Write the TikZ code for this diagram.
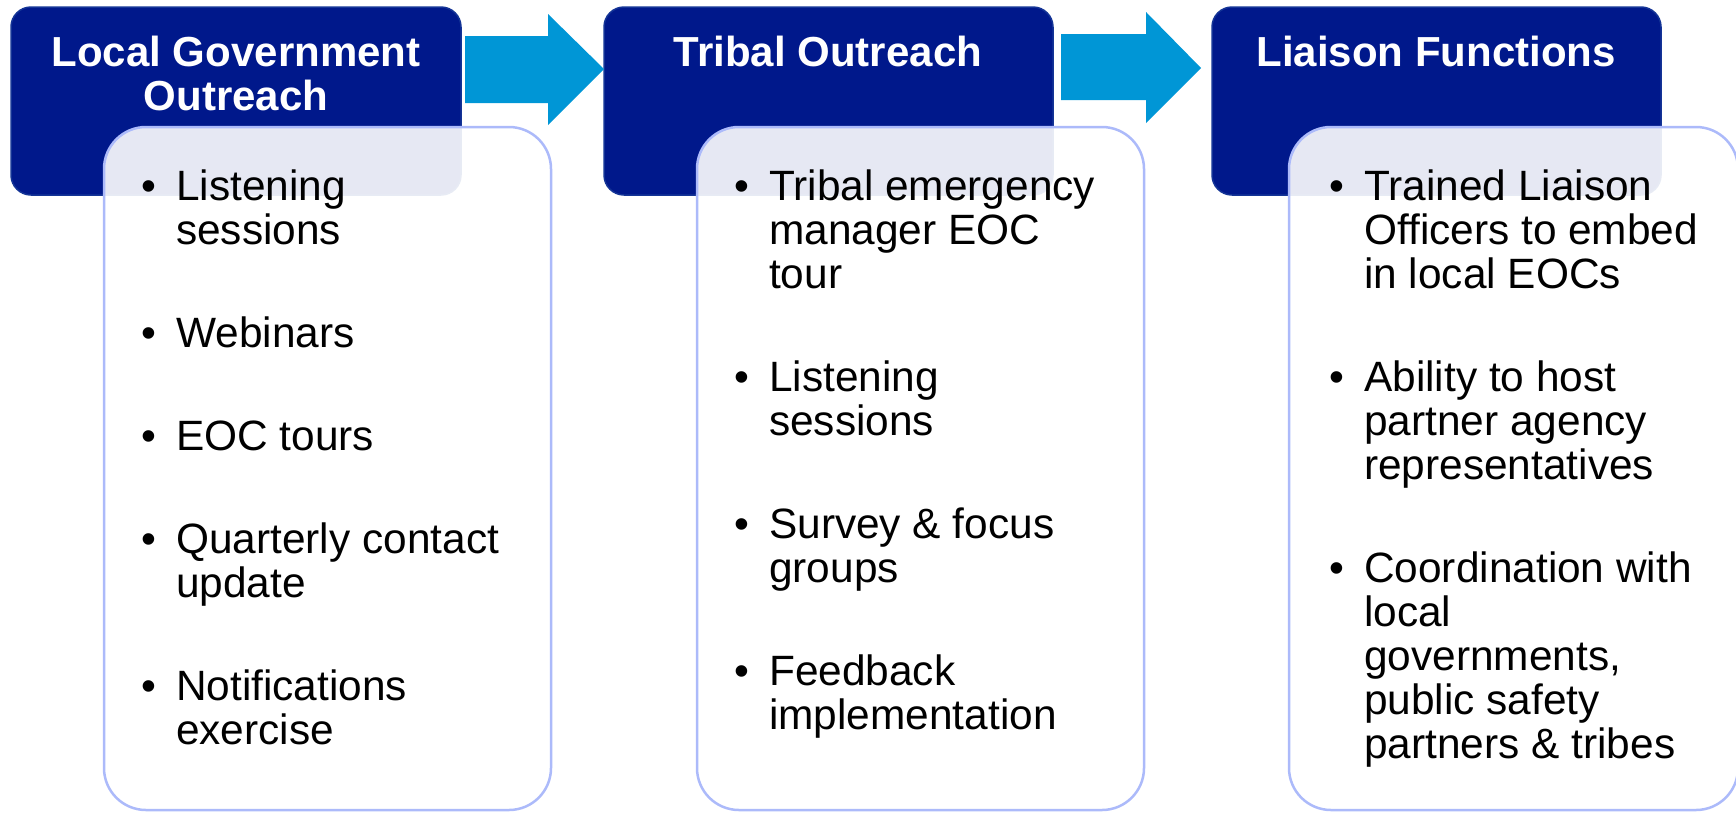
\documentclass[tikz,border=0pt]{standalone}
\usepackage{fontspec}
\setmainfont{Liberation Sans}
\definecolor{hdrfill}{RGB}{0,24,139}
\definecolor{hdrline}{RGB}{20,52,150}
\definecolor{arrowblue}{RGB}{0,150,214}
\definecolor{boxline}{RGB}{172,186,250}
\newcommand\blist[1]{\vtop{\hsize=420pt\fontsize{42.4}{44}\selectfont\lineskiplimit=-60pt\parindent=0pt\parskip=0pt\raggedright #1}}
\newcommand\bitem[1]{\hangindent=35pt\hangafter=1\noindent\makebox[35pt][l]{\textbullet}#1\par}
\newcommand\bgap{\vskip59pt}
\tikzset{
  hdrbox/.style={draw=hdrline, line width=1.5pt, fill=hdrfill, rounded corners=20pt},
  hdrtext/.style={anchor=base, inner sep=0pt, text=white, font=\fontsize{42}{44}\selectfont\bfseries},
  listbox/.style={draw=boxline, line width=2.5pt, fill=white, fill opacity=0.9, draw opacity=1, rounded corners=42pt},
  listtext/.style={anchor=base west, inner sep=0pt, text=black},
  flowarrow/.style={fill=arrowblue, draw=none}
}
\begin{document}
\begin{tikzpicture}[x=1pt,y=-1pt]
\useasboundingbox (0,0) rectangle (1736,812);
% headers
\draw[hdrbox] (11,7) rectangle (461,195);
\draw[hdrbox] (604,7) rectangle (1053,195);
\draw[hdrbox] (1212,7) rectangle (1661,195);
\coordinate (h1) at (236,66);
\coordinate (h2) at (828,66);
\coordinate (h3) at (1436,66);
\node[hdrtext] (t1) at (h1) {\begin{tabular}[t]{@{}c@{}}Local Government\\Outreach\end{tabular}};
\node[hdrtext] (t2) at (h2) {Tribal Outreach};
\node[hdrtext] (t3) at (h3) {Liaison Functions};
% arrows
\fill[flowarrow] (465,36) -- (548,36) -- (548,14) -- (604,69) -- (548,125) -- (548,103) -- (465,103) -- cycle;
\fill[flowarrow] (1061,34) -- (1146,34) -- (1146,12) -- (1201,68) -- (1146,123) -- (1146,100) -- (1061,100) -- cycle;
% list boxes
\draw[listbox] (104,127) rectangle (551,810);
\draw[listbox] (697,127) rectangle (1144,810);
\draw[listbox] (1289,127) rectangle (1738,810);
\node[listtext] (l1) at (141,200) {\blist{%
\bitem{Listening\newline sessions}\bgap
\bitem{Webinars}\bgap
\bitem{EOC tours}\bgap
\bitem{Quarterly contact\newline update}\bgap
\bitem{Notifications\newline exercise}}};
\node[listtext] (l2) at (734,200) {\blist{%
\bitem{Tribal emergency\newline manager EOC\newline tour}\bgap
\bitem{Listening\newline sessions}\bgap
\bitem{Survey \& focus\newline groups}\bgap
\bitem{Feedback\newline implementation}}};
\node[listtext] (l3) at (1329,200) {\blist{%
\bitem{Trained Liaison\newline Officers to embed\newline in local EOCs}\bgap
\bitem{Ability to host\newline partner agency\newline representatives}\bgap
\bitem{Coordination with\newline local\newline governments,\newline public safety\newline partners \& tribes}}};
\end{tikzpicture}
\end{document}
